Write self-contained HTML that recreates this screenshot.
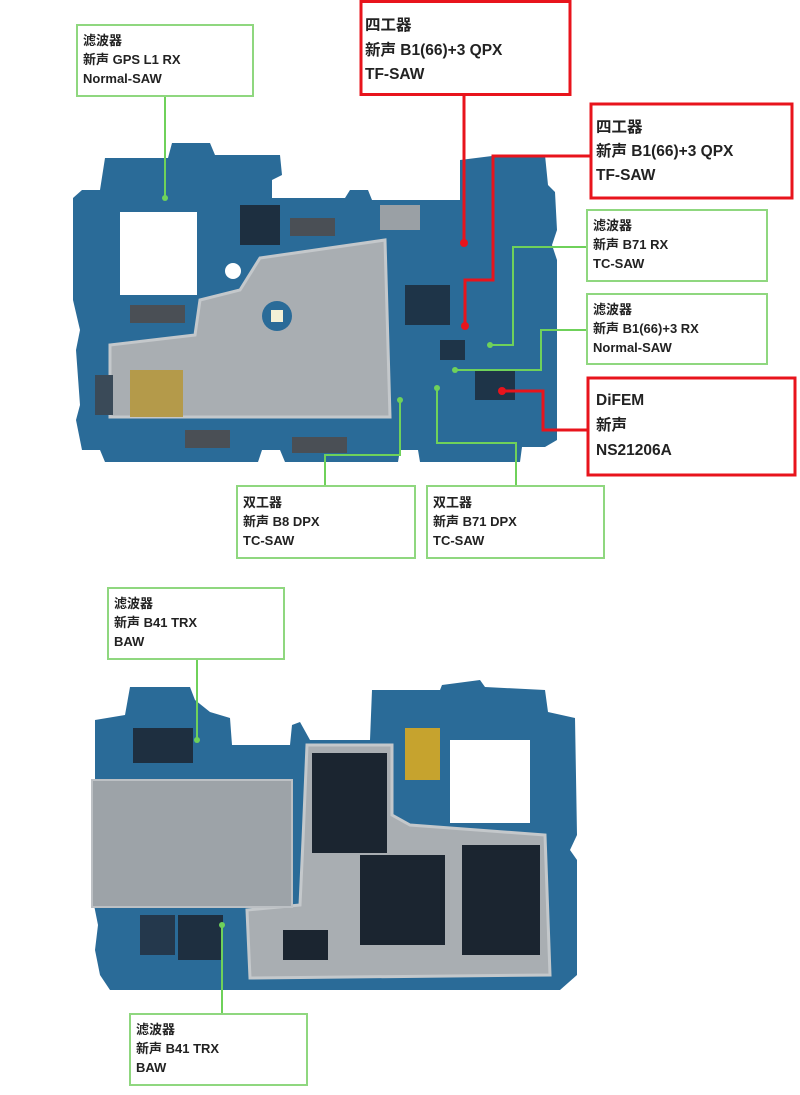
<!DOCTYPE html>
<html><head><meta charset="utf-8"><style>
html,body{margin:0;padding:0;background:#fff;}
svg{display:block;}
text{font-family:"Liberation Sans","Noto Sans CJK SC",sans-serif;font-weight:bold;fill:#222;}
</style></head><body>
<svg width="800" height="1095" viewBox="0 0 800 1095" xmlns="http://www.w3.org/2000/svg">
<!-- TOP BOARD -->
<path d="M73,198 L82,190 L100,190 L105,158 L168,158 L172,143 L210,143 L215,155 L280,155 L282,175 L272,180 L272,198 L345,198 L350,190 L368,190 L372,200 L460,200 L460,160 L500,155 L545,155 L548,185 L555,192 L557,230 L552,245 L557,260 L557,440 L545,447 L522,447 L520,462 L420,462 L418,450 L400,450 L398,462 L285,462 L280,450 L262,450 L258,462 L105,462 L100,450 L82,450 L76,420 L80,405 L76,350 L80,330 L73,300 Z" fill="#2a6b98"/>
<rect x="120" y="212" width="77" height="83" fill="#fff"/>
<circle cx="233" cy="271" r="8" fill="#fff"/>
<path d="M110,345 L195,335 L200,300 L240,290 L260,258 L385,240 L390,417 L110,417 Z" fill="#a9aeb2" stroke="#c4c8cb" stroke-width="3"/>
<circle cx="277" cy="316" r="15" fill="#2a6b98"/>
<rect x="271" y="310" width="12" height="12" fill="#f4f1d6"/>
<rect x="130" y="370" width="53" height="47" fill="#b49a4a"/>
<rect x="240" y="205" width="40" height="40" fill="#1d2f40"/>
<rect x="290" y="218" width="45" height="18" fill="#4a4f55"/>
<rect x="130" y="305" width="55" height="18" fill="#4a4f55"/>
<rect x="185" y="430" width="45" height="18" fill="#4a4f55"/>
<rect x="292" y="437" width="55" height="16" fill="#4a4f55"/>
<rect x="95" y="375" width="18" height="40" fill="#3a4a58"/>
<rect x="405" y="285" width="45" height="40" fill="#1e3448"/>
<rect x="380" y="205" width="40" height="25" fill="#9aa0a5"/>
<rect x="475" y="370" width="40" height="30" fill="#1e3448"/>
<rect x="440" y="340" width="25" height="20" fill="#1e3448"/>
<!-- BOTTOM BOARD -->
<path d="M95,720 L125,715 L130,687 L190,687 L195,700 L210,712 L230,718 L232,745 L290,745 L292,725 L300,722 L310,740 L370,740 L372,690 L440,690 L442,685 L480,680 L485,687 L545,690 L548,712 L575,718 L577,835 L570,850 L577,860 L577,975 L560,990 L110,990 L100,975 L95,950 L98,925 L93,900 L95,880 Z" fill="#2a6b98"/>
<rect x="450" y="740" width="80" height="83" fill="#fff"/>
<rect x="405" y="728" width="35" height="52" fill="#c6a32e"/>
<path d="M307,745 L392,745 L392,815 L410,825 L545,835 L550,975 L250,978 L247,910 L300,905 L303,840 Z" fill="#a9aeb2" stroke="#c4c8cb" stroke-width="3"/>
<rect x="312" y="753" width="75" height="100" fill="#1b2530"/>
<rect x="360" y="855" width="85" height="90" fill="#1b2530"/>
<rect x="462" y="845" width="78" height="110" fill="#1b2530"/>
<rect x="283" y="930" width="45" height="30" fill="#1b2530"/>
<rect x="92" y="780" width="200" height="127" fill="#9da3a8" stroke="#bcc0c4" stroke-width="2"/>
<rect x="133" y="728" width="60" height="35" fill="#1e2f40"/>
<rect x="178" y="915" width="45" height="45" fill="#1e2f40"/>
<rect x="140" y="915" width="35" height="40" fill="#24384c"/>
<!-- connectors green -->
<g stroke="#6fd15a" stroke-width="2" fill="none">
<path d="M165,96 V198"/>
<path d="M587,247 H513 V345 H490"/>
<path d="M587,330 H541 V370 H455"/>
<path d="M325,486 V455 H400 V400"/>
<path d="M516,486 V443 H437 V388"/>
<path d="M197,659 V740"/>
<path d="M222,1014 V925"/>
</g>
<g fill="#6fd15a">
<circle cx="165" cy="198" r="3"/><circle cx="490" cy="345" r="3"/><circle cx="455" cy="370" r="3"/>
<circle cx="400" cy="400" r="3"/><circle cx="437" cy="388" r="3"/><circle cx="197" cy="740" r="3"/><circle cx="222" cy="925" r="3"/>
</g>
<!-- connectors red -->
<g stroke="#e8141c" stroke-width="3" fill="none">
<path d="M464,95 V243"/>
<path d="M591,156 H493 V280 H465 V326"/>
<path d="M587,430 H543 V391 H502"/>
</g>
<g fill="#e8141c"><circle cx="464" cy="243" r="4"/><circle cx="465" cy="326" r="4"/><circle cx="502" cy="391" r="4"/></g>
<!-- label boxes -->
<g fill="#fff" stroke="#8fd77f" stroke-width="2">
<rect x="77" y="25" width="176" height="71"/>
<rect x="587" y="210" width="180" height="71"/>
<rect x="587" y="294" width="180" height="70"/>
<rect x="237" y="486" width="178" height="72"/>
<rect x="427" y="486" width="177" height="72"/>
<rect x="108" y="588" width="176" height="71"/>
<rect x="130" y="1014" width="177" height="71"/>
</g>
<g fill="#fff" stroke="#e8141c" stroke-width="3">
<rect x="361" y="1.5" width="209" height="93"/>
<rect x="591" y="104" width="201" height="94"/>
<rect x="588" y="378" width="207" height="97"/>
</g>
<g font-size="13">
<text x="83" y="45">滤波器</text><text x="83" y="64">新声 GPS L1 RX</text><text x="83" y="83">Normal-SAW</text>
<text x="593" y="230">滤波器</text><text x="593" y="249">新声 B71 RX</text><text x="593" y="268">TC-SAW</text>
<text x="593" y="314">滤波器</text><text x="593" y="333">新声 B1(66)+3 RX</text><text x="593" y="352">Normal-SAW</text>
<text x="243" y="507">双工器</text><text x="243" y="526">新声 B8 DPX</text><text x="243" y="545">TC-SAW</text>
<text x="433" y="507">双工器</text><text x="433" y="526">新声 B71 DPX</text><text x="433" y="545">TC-SAW</text>
<text x="114" y="608">滤波器</text><text x="114" y="627">新声 B41 TRX</text><text x="114" y="646">BAW</text>
<text x="136" y="1034">滤波器</text><text x="136" y="1053">新声 B41 TRX</text><text x="136" y="1072">BAW</text>
</g>
<g font-size="15.5">
<text x="365" y="30">四工器</text><text x="365" y="55">新声 B1(66)+3 QPX</text><text x="365" y="79">TF-SAW</text>
<text x="596" y="132">四工器</text><text x="596" y="156">新声 B1(66)+3 QPX</text><text x="596" y="180">TF-SAW</text>
<text x="596" y="405">DiFEM</text><text x="596" y="430">新声</text><text x="596" y="455">NS21206A</text>
</g>
</svg>
</body></html>
